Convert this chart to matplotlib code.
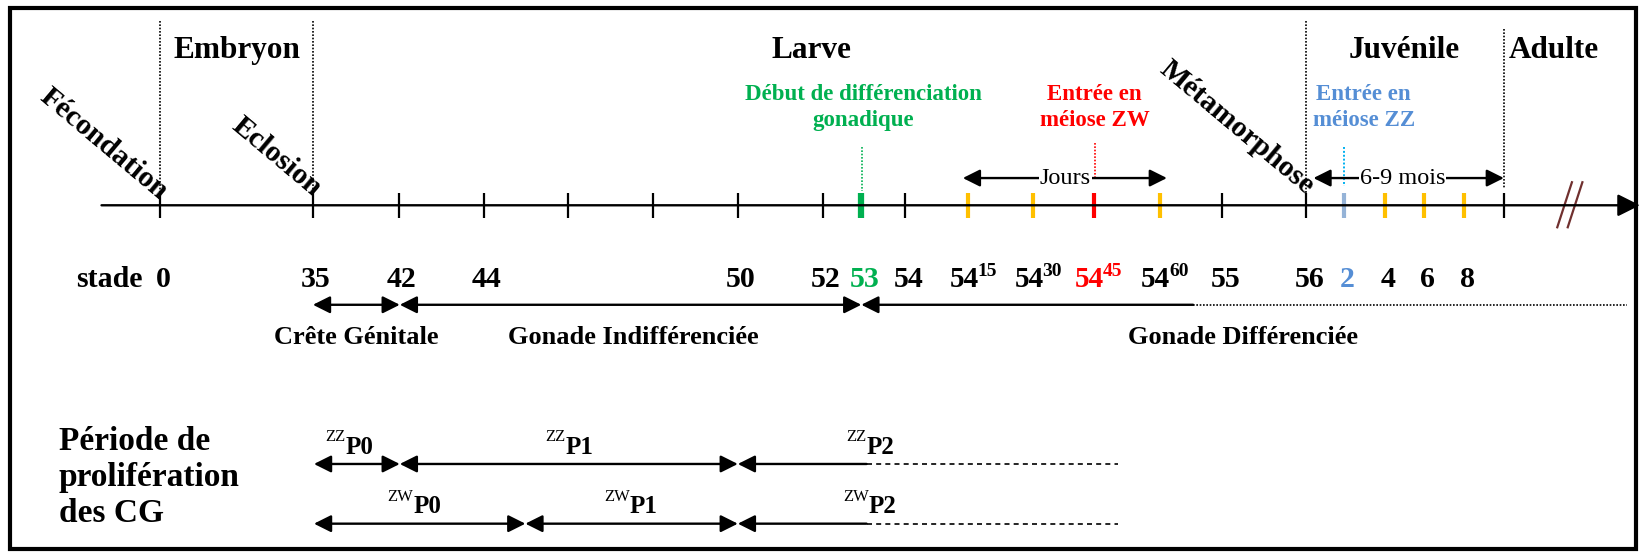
import matplotlib.pyplot as plt
from matplotlib.patches import Rectangle

plt.rcParams['font.family'] = ['Liberation Serif', 'DejaVu Serif']

# periods written above the timeline
periods = ['Embryon', 'Larve', 'Juvénile', 'Adulte']
period_x = [226, 775, 1342, 1485]
# dotted boundaries between periods
bounds_x = [153, 299, 1248, 1437]

# events written at an angle (centre of their box)
events = ['Fécondation', 'Eclosion', 'Métamorphose']
event_xy = [(99, 137), (264, 150), (1182, 122)]

# stages along the timeline
stage_x = [153, 299, 381, 462, 543, 624, 705, 786, 823, 865,
           925, 987, 1045, 1108, 1168, 1248, 1284, 1323, 1361, 1399, 1437]
stage_base = ['0', '35', '42', '44', '', '', '50', '52', '53', '54',
              '54', '54', '54', '54', '55', '56', '2', '4', '6', '8', '']
stage_sup = ['', '', '', '', '', '', '', '', '', '',
             '15', '30', '45', '60', '', '', '', '', '', '', '']
stage_col = ['k', 'k', 'k', 'k', 'k', 'k', 'k', 'k', '#00B050', 'k',
             '#FFC000', '#FFC000', '#FF0000', '#FFC000', 'k', 'k',
             '#95B3D7', '#FFC000', '#FFC000', '#FFC000', 'k']
label_col = ['k'] * 21
label_col[8] = '#00B050'
label_col[12] = '#FF0000'
label_col[16] = '#558ED5'

# gonad phases
gonad_seg = [(299, 382), (382, 823)]
gonad_lab = ['Crête Génitale', 'Gonade Indifférenciée', 'Gonade Différenciée']
gonad_lab_x = [340, 605, 1188]
gonad_open = (823, 1140, 1555)

# germ cell proliferation periods
zz_cuts = [300, 382, 705]
zz_lab = ['P0', 'P1', 'P2']
zz_lab_x = [330, 540, 828]
zw_cuts = [300, 502, 705]
zw_lab_x = [395, 602, 830]
prolif_open = (705, 828, 1068)

W, H = 1568, 528
fig = plt.figure(figsize=(16.41, 5.53), dpi=100)
ax = fig.add_axes([0, 0, 1, 1])
ax.set_xlim(0, W)
ax.set_ylim(H, 0)
ax.axis('off')

ax.add_patch(Rectangle((10, 8), 1553, 516, fill=False, lw=3, ec='k'))

bold = dict(fontweight='bold')
axis_y = 196


def arrow(x0, x1, y, style='<|-|>', ms=26, lw=1.7):
    ax.annotate('', xy=(x1, y), xytext=(x0, y),
                arrowprops=dict(arrowstyle=style, color='k', lw=lw,
                                mutation_scale=ms, shrinkA=0, shrinkB=0))


# main time axis
arrow(97, 1567, axis_y, style='-|>', ms=34, lw=1.7)

for x in bounds_x:
    top, bot = (28, 180) if x == 1437 else (20, 188)
    ax.plot([x, x], [top, bot], ls=(0, (1, 1)), color='k', lw=1.2)

for lab, x in zip(periods, period_x):
    ax.text(x, 48, lab, ha='center', va='center', fontsize=22.5, **bold)

for lab, (x, y) in zip(events, event_xy):
    ax.text(x, y, lab, ha='center', va='center', rotation=-40,
            fontsize=21.5, **bold)

# ticks
for x, c in zip(stage_x, stage_col):
    w = 1.6 if c == 'k' else 3
    if c == '#00B050':
        w = 4.5
    ax.plot([x, x], [axis_y - 12, axis_y + 12], color=c, lw=w,
            solid_capstyle='butt')

# break mark
for dx in (0, 10):
    ax.plot([1502 + dx, 1488 + dx], [174, 217], color='#70302F', lw=1.6)

# event annotations
ax.text(825, 103, 'Début de différenciation\ngonadique', ha='center',
        va='center', color='#00B050', fontsize=16.5, linespacing=1.3, **bold)
ax.plot([824, 824], [140, 182], ls=(0, (1, 1)), color='#00B050', lw=1.2)
ax.text(1046, 103, 'Entrée en\nméiose ZW', ha='center', va='center',
        color='#FF0000', fontsize=16.5, linespacing=1.3, **bold)
ax.plot([1046, 1046], [137, 170], ls=(0, (1, 1)), color='#FF0000', lw=1.2)
ax.text(1303, 103, 'Entrée en\nméiose ZZ', ha='center', va='center',
        color='#558ED5', fontsize=16.5, linespacing=1.3, **bold)
ax.plot([1284, 1284], [140, 178], ls=(0, (1, 1)), color='#00B0F0', lw=1.4)

arrow(920, 1115, 170)
ax.text(1018, 170, 'Jours', ha='center', va='center', fontsize=17.5,
        bbox=dict(fc='white', ec='none', pad=0.5))
arrow(1255, 1437, 170)
ax.text(1340, 170, '6-9 mois', ha='center', va='center', fontsize=17.5,
        bbox=dict(fc='white', ec='none', pad=0.5))

# stage labels
num_y = 274
ax.text(136, num_y, 'stade', ha='right', va='baseline', fontsize=21.5, **bold)
for x, b, s, c in zip(stage_x, stage_base, stage_sup, label_col):
    if not b:
        continue
    if s:
        ax.text(x + 10, num_y, b, ha='right', va='baseline', color=c,
                fontsize=21, **bold)
        ax.text(x + 9, num_y - 10, s, ha='left', va='baseline', color=c,
                fontsize=14, **bold)
    else:
        ax.text(x + 3, num_y, b, ha='center', va='baseline', color=c,
                fontsize=21.5, **bold)

# gonad phases
gy = 291
for x0, x1 in gonad_seg:
    arrow(x0, x1, gy)
a, b, c = gonad_open
arrow(a, b, gy, style='<|-')
ax.plot([b, c], [gy, gy], ls=(0, (1, 1)), color='k', lw=1.2)
for lab, x in zip(gonad_lab, gonad_lab_x):
    ax.text(x, 322, lab, ha='center', va='center', fontsize=19, **bold)

# proliferation periods
ax.text(56, 456, 'Période de\nprolifération\ndes CG', ha='left', va='center',
        fontsize=24, linespacing=1.2, **bold)


def prolif_row(cuts, lab_x, prefix, y):
    for x0, x1 in zip(cuts[:-1], cuts[1:]):
        arrow(x0, x1, y)
    a, b, c = prolif_open
    arrow(a, b, y, style='<|-')
    ax.plot([b, c], [y, y], ls=(0, (3, 2.5)), color='k', lw=1.2)
    for lab, x in zip(zz_lab, lab_x):
        ax.text(x, y - 10, lab, ha='left', va='baseline', fontsize=18, **bold)
        ax.text(x, y - 22, prefix, ha='right', va='baseline', fontsize=12)


prolif_row(zz_cuts, zz_lab_x, 'ZZ', 443)
prolif_row(zw_cuts, zw_lab_x, 'ZW', 500)

fig.savefig('out.png', dpi=100)
